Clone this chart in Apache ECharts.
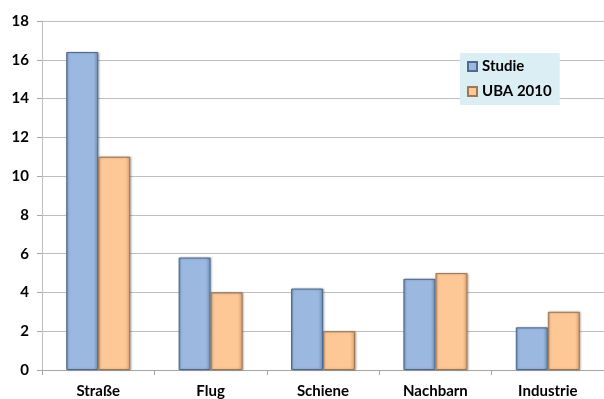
<!DOCTYPE html>
<html>
<head>
<meta charset="utf-8">
<script src="https://cdn.jsdelivr.net/npm/echarts@6/dist/echarts.min.js"></script>
<style>
html,body{margin:0;padding:0;background:#fff;}
#chart{width:604px;height:399px;}
</style>
</head>
<body>
<div id="chart"></div>
<script>
// Emissions by sector: study estimate vs. UBA 2010
const categories = ['Straße', 'Flug', 'Schiene', 'Nachbarn', 'Industrie'];
const studie = [16.4, 5.8, 4.2, 4.7, 2.2];
const uba2010 = [11.0, 4.0, 2.0, 5.0, 3.0];
const yTicks = [0, 2, 4, 6, 8, 10, 12, 14, 16, 18];

const FONT = 'Lato, "Open Sans", "Liberation Sans", sans-serif';

// horizontal shading gives the bars a bevelled look
function bevel(mid, dark) {
  return new echarts.graphic.LinearGradient(0, 0, 1, 0, [
    { offset: 0, color: dark },
    { offset: 0.08, color: mid },
    { offset: 0.85, color: mid },
    { offset: 1, color: dark }
  ]);
}

const chart = echarts.init(document.getElementById('chart'));
chart.setOption({
  animation: false,
  backgroundColor: '#ffffff',
  grid: { left: 42, top: 21, width: 566, height: 350, containLabel: false },
  legend: {
    orient: 'vertical',
    left: 460,
    top: 53,
    width: 93,
    padding: [6, 8, 6, 7],
    itemGap: 10,
    backgroundColor: '#DAEEF3',
    itemWidth: 9,
    itemHeight: 9,
    icon: 'rect',
    textStyle: { fontFamily: FONT, fontWeight: 'bold', fontSize: 15, color: '#000', lineHeight: 15 },
    data: ['Studie', 'UBA 2010']
  },
  xAxis: {
    type: 'category',
    data: categories,
    axisLine: { lineStyle: { color: '#A6A6A6' } },
    axisTick: { show: true, alignWithLabel: false, length: 5, lineStyle: { color: '#A6A6A6' } },
    axisLabel: { fontFamily: FONT, fontWeight: 'bold', fontSize: 15, color: '#000', margin: 14 }
  },
  yAxis: {
    type: 'value',
    min: yTicks[0],
    max: yTicks[yTicks.length - 1],
    interval: 2,
    axisLine: { show: true, lineStyle: { color: '#BFBFBF' } },
    axisTick: { show: true, length: 5, lineStyle: { color: '#A6A6A6' } },
    splitLine: { lineStyle: { color: '#BFBFBF', width: 1 } },
    axisLabel: { fontFamily: FONT, fontWeight: 'bold', fontSize: 15, color: '#000', margin: 13 }
  },
  series: [
    {
      name: 'Studie',
      type: 'bar',
      data: studie,
      barWidth: 32,
      barGap: '0%',
      itemStyle: {
        color: bevel('#9BB8E0', '#6F8FB8'),
        borderColor: '#4F6A90',
        borderWidth: 1,
        shadowColor: 'rgba(0,0,0,0.25)',
        shadowBlur: 2,
        shadowOffsetX: 1,
        shadowOffsetY: 0
      }
    },
    {
      name: 'UBA 2010',
      type: 'bar',
      data: uba2010,
      barWidth: 32,
      barGap: '0%',
      itemStyle: {
        color: bevel('#FDC896', '#D9A070'),
        borderColor: '#A07850',
        borderWidth: 1,
        shadowColor: 'rgba(0,0,0,0.25)',
        shadowBlur: 2,
        shadowOffsetX: 1,
        shadowOffsetY: 0
      }
    }
  ]
});
</script>
</body>
</html>
